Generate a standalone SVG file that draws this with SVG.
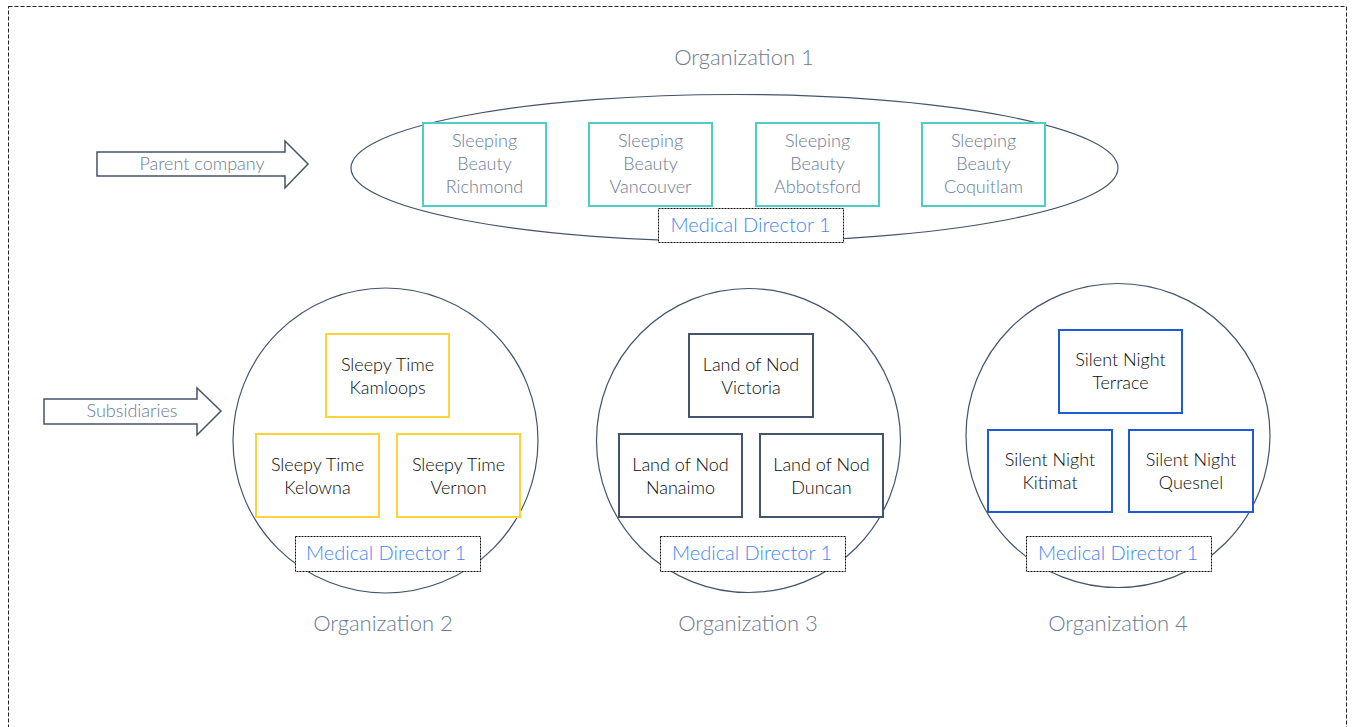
<svg xmlns="http://www.w3.org/2000/svg" width="1353" height="727" viewBox="0 0 1353 727">
<style>
text{font-family:Lato,"Open Sans","Liberation Sans",sans-serif;text-anchor:middle;font-weight:300}
.org{fill:none;stroke:#44546A;stroke-width:1.2}
.tl{fill:#fff;stroke:#4ECDC4;stroke-width:2}
.yl{fill:#fff;stroke:#FFD43B;stroke-width:2}
.dk{fill:#fff;stroke:#44546A;stroke-width:2}
.bl{fill:#fff;stroke:#1F5BD6;stroke-width:2}
.md{fill:#fff;stroke:#000;stroke-width:1;stroke-dasharray:2 1}
.mt{font-size:20px;fill:#3F86F2}
.gt{font-size:18px;fill:#6A7B95}
.bt{font-size:18px;fill:#0A0A0A}
.ot{font-size:22px;fill:#6A7B95}
.ar{fill:#fff;stroke:#44546A;stroke-width:1.5}
.at{font-size:18px;fill:#6A7B95}
</style>
<rect x="8.5" y="6.5" width="1338" height="760" fill="none" stroke="#222" stroke-width="1" stroke-dasharray="4 2"/>
<g id="connectors">
<g id="arrow-parent">
<polygon class="ar" points="97,152 285,152 285,141 308,164 285,188 285,176 97,176"/>
<text class="at" x="202" y="170">Parent company</text>
</g>
<g id="arrow-subs">
<polygon class="ar" points="44,399 197,399 197,388 221,411 197,435 197,424 44,424"/>
<text class="at" x="132" y="417">Subsidiaries</text>
</g>
</g>
<g id="org1">
<ellipse class="org" cx="734.5" cy="168" rx="383.5" ry="73.5"/>
<text class="ot" x="744" y="65">Organization 1</text>
</g>
<g id="sb-richmond"><rect class="tl" x="423" y="123" width="123" height="83"/><text class="gt" x="484.5" y="147">Sleeping</text><text class="gt" x="484.5" y="170">Beauty</text><text class="gt" x="484.5" y="193">Richmond</text></g>
<g id="sb-vancouver"><rect class="tl" x="589" y="123" width="123" height="83"/><text class="gt" x="650.5" y="147">Sleeping</text><text class="gt" x="650.5" y="170">Beauty</text><text class="gt" x="650.5" y="193">Vancouver</text></g>
<g id="sb-abbotsford"><rect class="tl" x="756" y="123" width="123" height="83"/><text class="gt" x="817.5" y="147">Sleeping</text><text class="gt" x="817.5" y="170">Beauty</text><text class="gt" x="817.5" y="193">Abbotsford</text></g>
<g id="sb-coquitlam"><rect class="tl" x="922" y="123" width="123" height="83"/><text class="gt" x="983.5" y="147">Sleeping</text><text class="gt" x="983.5" y="170">Beauty</text><text class="gt" x="983.5" y="193">Coquitlam</text></g>
<g id="md1"><rect class="md" x="658.5" y="208.5" width="185" height="34"/><text class="mt" x="750.5" y="232">Medical Director 1</text></g>

<g id="org2">
<circle class="org" cx="385.5" cy="440.5" r="152.5"/>
<text class="ot" x="383" y="631">Organization 2</text>
</g>
<g id="st-kamloops"><rect class="yl" x="326" y="334" width="123" height="83"/><text class="bt" x="387.5" y="371">Sleepy Time</text><text class="bt" x="387.5" y="394">Kamloops</text></g>
<g id="st-kelowna"><rect class="yl" x="256" y="434" width="123" height="83"/><text class="bt" x="317.5" y="471">Sleepy Time</text><text class="bt" x="317.5" y="494">Kelowna</text></g>
<g id="st-vernon"><rect class="yl" x="397" y="434" width="123" height="83"/><text class="bt" x="458.5" y="471">Sleepy Time</text><text class="bt" x="458.5" y="494">Vernon</text></g>
<g id="md2"><rect class="md" x="295.5" y="536.5" width="185" height="35"/><text class="mt" x="386" y="560">Medical Director 1</text></g>

<g id="org3">
<circle class="org" cx="748.5" cy="440.5" r="152"/>
<text class="ot" x="748" y="631">Organization 3</text>
</g>
<g id="ln-victoria"><rect class="dk" x="689" y="334" width="124" height="83"/><text class="bt" x="751" y="371">Land of Nod</text><text class="bt" x="751" y="394">Victoria</text></g>
<g id="ln-nanaimo"><rect class="dk" x="619" y="434" width="123" height="83"/><text class="bt" x="680.5" y="471">Land of Nod</text><text class="bt" x="680.5" y="494">Nanaimo</text></g>
<g id="ln-duncan"><rect class="dk" x="760" y="434" width="123" height="83"/><text class="bt" x="821.5" y="471">Land of Nod</text><text class="bt" x="821.5" y="494">Duncan</text></g>
<g id="md3"><rect class="md" x="660.5" y="536.5" width="185" height="35"/><text class="mt" x="752" y="560">Medical Director 1</text></g>

<g id="org4">
<circle class="org" cx="1118" cy="435.5" r="152"/>
<text class="ot" x="1118" y="631">Organization 4</text>
</g>
<g id="sn-terrace"><rect class="bl" x="1059" y="330" width="123" height="83"/><text class="bt" x="1120.5" y="366">Silent Night</text><text class="bt" x="1120.5" y="389">Terrace</text></g>
<g id="sn-kitimat"><rect class="bl" x="988" y="430" width="124" height="82"/><text class="bt" x="1050" y="466">Silent Night</text><text class="bt" x="1050" y="489">Kitimat</text></g>
<g id="sn-quesnel"><rect class="bl" x="1129" y="430" width="124" height="82"/><text class="bt" x="1191" y="466">Silent Night</text><text class="bt" x="1191" y="489">Quesnel</text></g>
<g id="md4"><rect class="md" x="1026.5" y="536.5" width="185" height="35"/><text class="mt" x="1118" y="560">Medical Director 1</text></g>
</svg>
